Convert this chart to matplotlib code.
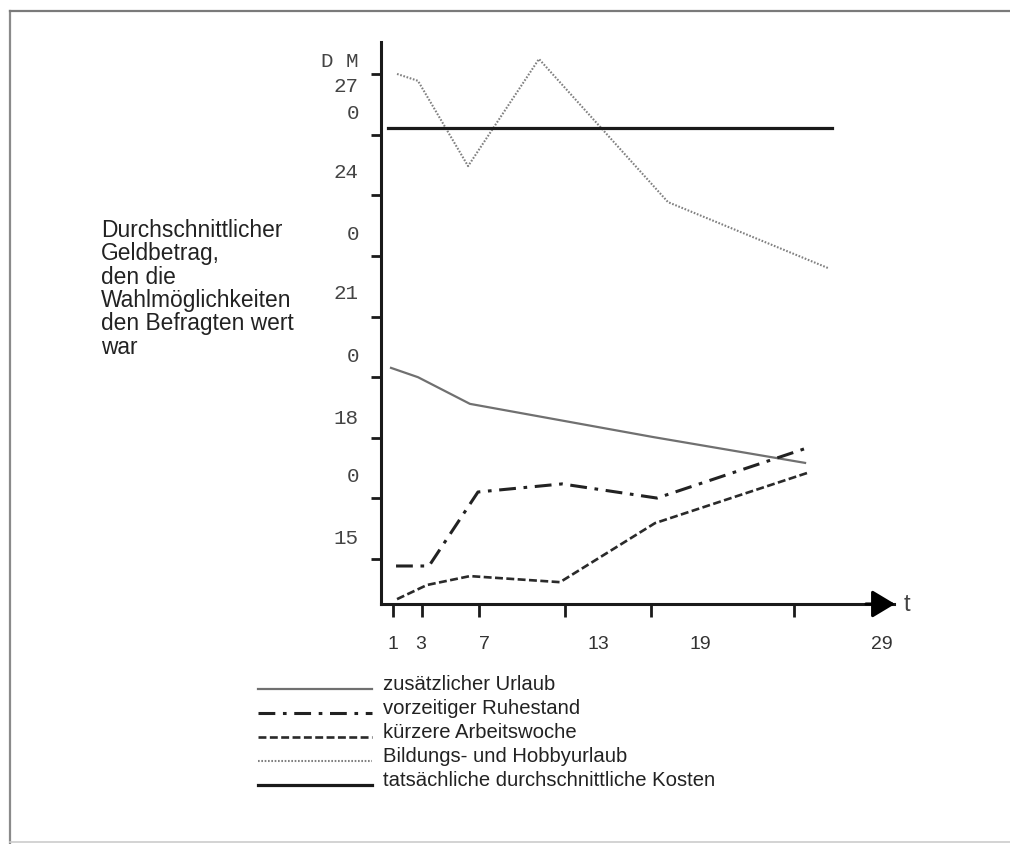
import matplotlib
matplotlib.use('Agg')
import matplotlib.pyplot as plt
from matplotlib.lines import Line2D

# Werte (t = Zeitpunkt, DM-Betrag)
t_urlaub = [0.84, 2.72, 6.35, 19.13, 29.75]
dm_urlaub = [197.3, 195.0, 188.4, 180.2, 173.8]

t_ruhestand = [1.19, 3.49, 6.91, 12.78, 19.41, 29.89]
dm_ruhestand = [148.3, 148.3, 166.6, 168.6, 165.1, 177.5]

t_arbeitswoche = [1.26, 3.35, 6.35, 12.64, 19.27, 29.89]
dm_arbeitswoche = [140.1, 143.6, 145.8, 144.3, 158.9, 171.3]

t_hobby = [1.26, 2.72, 6.22, 11.17, 20.18, 31.35]
dm_hobby = [270.0, 268.3, 247.2, 273.7, 238.3, 222.0]

t_kosten = [0.63, 31.63]
dm_kosten = [256.6, 256.6]

y_ticks = [150, 165, 180, 195, 210, 225, 240, 255, 270]
x_ticks = [1, 3, 7, 13, 19, 29]

# Beschriftungen so wie im Bild (zerrissene Zahlen)
y_texts = ["D M", "27", "0", "24", "0", "21", "0", "18", "0", "15"]
y_text_pos = [273.0, 267.0, 260.3, 245.7, 230.2, 215.6, 200.2, 184.9, 170.5, 155.2]
x_texts = ["1", "3", "7", "13", "19", "29"]
x_text_pos = [0.98, 2.93, 7.33, 15.29, 22.42, 35.13]

legend_labels = ["zusätzlicher Urlaub", "vorzeitiger Ruhestand", "kürzere Arbeitswoche",
                 "Bildungs- und Hobbyurlaub", "tatsächliche durchschnittliche Kosten"]

W, H = 1010, 844
fig = plt.figure(figsize=(W / 100, H / 100), dpi=100)
fig.patch.set_facecolor('white')

def fx(px):
    return px / W

def fy(py):
    return 1 - py / H

ax = fig.add_axes([fx(381), fy(604), fx(894) - fx(381), fy(42) - fy(604)])
ax.set_xlim(0.14, 35.96)
ax.set_ylim(138.9, 277.9)
ax.patch.set_alpha(0)

# Stile der Linien: Urlaub, Ruhestand, Arbeitswoche, Hobby, Kosten
styles = [
    dict(color='#707070', lw=1.6, ls='-'),
    dict(color='#222222', lw=2.2, ls=(0, (5.5, 2.5, 1.2, 2.5))),
    dict(color='#2a2a2a', lw=1.9, ls=(0, (3, 1.3))),
    dict(color='#808080', lw=1.5, ls=(0, (0.8, 0.8))),
    dict(color='#1a1a1a', lw=2.3, ls='-'),
]

series = [(t_urlaub, dm_urlaub), (t_ruhestand, dm_ruhestand),
          (t_arbeitswoche, dm_arbeitswoche), (t_hobby, dm_hobby),
          (t_kosten, dm_kosten)]

for (tx, dm), st in zip(series, styles):
    ax.plot(tx, dm, color=st['color'], lw=st['lw'], linestyle=st['ls'],
            solid_joinstyle='miter', clip_on=False)

for s in ['top', 'right']:
    ax.spines[s].set_visible(False)
ax.spines['left'].set_linewidth(2.2)
ax.spines['bottom'].set_linewidth(2.2)
ax.spines['left'].set_color('#1a1a1a')
ax.spines['bottom'].set_color('#1a1a1a')

ax.set_yticks(y_ticks)
ax.set_xticks(x_ticks)
ax.tick_params(axis='y', direction='out', length=7.5, width=2.0, color='#1a1a1a', labelleft=False)
ax.tick_params(axis='x', direction='out', length=9.5, width=2.0, color='#1a1a1a', labelbottom=False)

# Pfeil am Ende der t-Achse
ax.annotate('', xy=(36.03, 138.9), xytext=(34.0, 138.9),
            arrowprops=dict(arrowstyle='-|>,head_length=0.7,head_width=0.42',
                            mutation_scale=20, color='black', lw=2.2,
                            shrinkA=0, shrinkB=0),
            annotation_clip=False)
ax.text(36.87, 138.6, "t", fontsize=17, color='#444444', ha='center', va='center',
        family='Liberation Sans', clip_on=False)

for txt, pos in zip(y_texts, y_text_pos):
    ax.text(-1.4, pos, txt, fontsize=15, color='#444444', ha='right', va='center',
            family='Liberation Mono', clip_on=False)

for txt, pos in zip(x_texts, x_text_pos):
    ax.text(pos, 129.0, txt, fontsize=14, color='#333333', ha='center', va='center',
            family='Liberation Sans', clip_on=False)

fig.text(fx(101), fy(219), "Durchschnittlicher\nGeldbetrag,\nden die\nWahlmöglichkeiten\nden Befragten wert\nwar",
         fontsize=16.4, color='#222222', ha='left', va='top', linespacing=1.02,
         family='Liberation Sans')

# Legende von Hand
row_y = [685, 709, 733, 757, 781]
for lab, st, py in zip(legend_labels, styles, row_y):
    fig.add_artist(Line2D([fx(258), fx(372)], [fy(py + 4), fy(py + 4)],
                          color=st['color'], lw=st['lw'], linestyle=st['ls']))
    fig.text(fx(383), fy(py), lab, fontsize=14.6, color='#222222', ha='left',
             va='center', family='Liberation Sans')

# grauer Rahmen des Scans
fig.add_artist(Line2D([fx(10), fx(10)], [fy(11), fy(843)], color='#8a8a8a', lw=1.6))
fig.add_artist(Line2D([fx(10), fx(1010)], [fy(11), fy(11)], color='#7a7a7a', lw=1.6))
fig.add_artist(Line2D([fx(10), fx(1010)], [fy(842), fy(842)], color='#cccccc', lw=1.2))

fig.savefig('out.png', dpi=100)
